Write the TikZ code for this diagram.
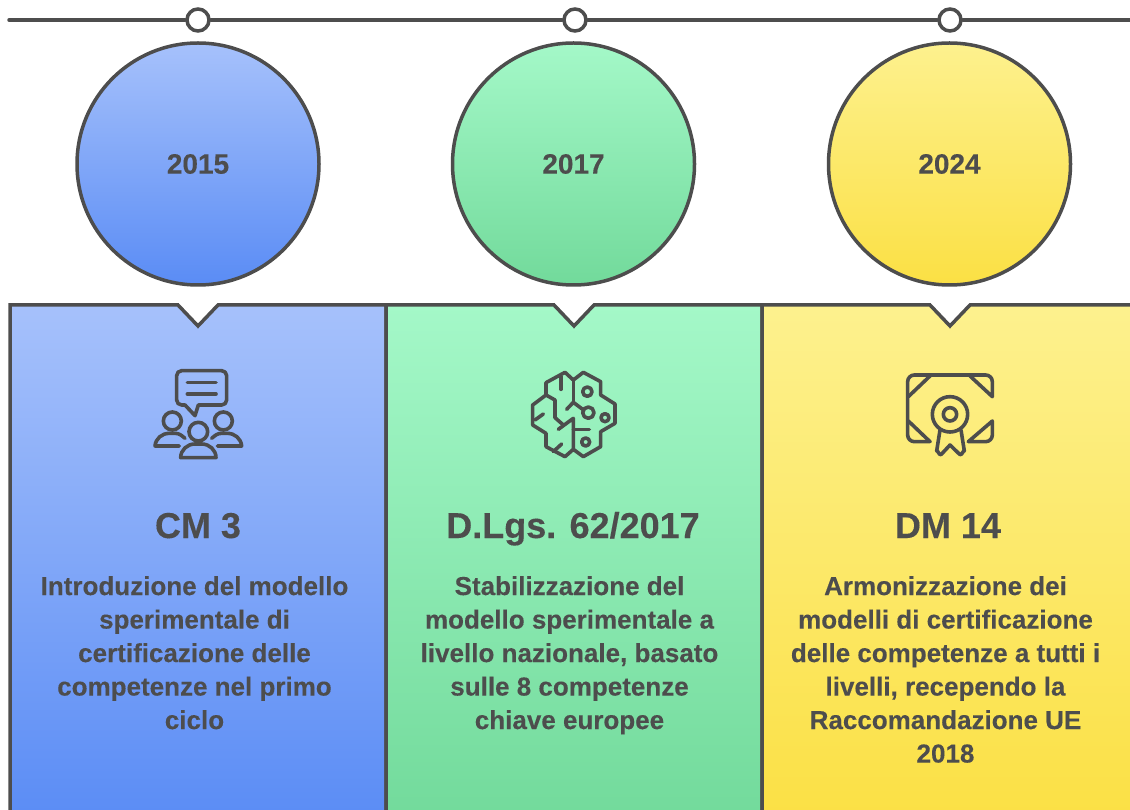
\documentclass[tikz,border=0pt]{standalone}
\usepackage{fontspec}
\setmainfont[BoldFeatures={FakeBold=0.2}]{Liberation Sans}
\definecolor{ink}{HTML}{4D4D4D}
\definecolor{blueT}{HTML}{A6C1FB}
\definecolor{blueB}{HTML}{5A8CF5}
\definecolor{greenT}{HTML}{A4F8C8}
\definecolor{greenB}{HTML}{72DA9B}
\definecolor{yellT}{HTML}{FDF18E}
\definecolor{yellB}{HTML}{FBE044}
\tikzset{
  yearball/.style={circle,draw=ink,line width=3.5pt,minimum size=242pt,inner sep=0pt,text=ink,font=\fontsize{28}{28}\selectfont\bfseries},
  tick/.style={circle,draw=ink,line width=3.5pt,fill=white,minimum size=22pt,inner sep=0pt},
  timeline/.style={draw=ink,line width=3.5pt,line cap=round},
  panel/.style={draw=ink,line width=3.5pt,line join=miter},
  headline/.style={text=ink,font=\fontsize{36}{36}\selectfont\bfseries,inner sep=0pt,anchor=base},
  bodytext/.style={text=ink,align=center,anchor=north,inner sep=0pt,font=\fontsize{26}{33.5}\selectfont\bfseries},
  ico/.style={draw=ink,line width=3.6pt,line cap=round,line join=round},
  zoomed/.style={x=0.33333pt,y=-0.33333pt}
}
\begin{document}
\begin{tikzpicture}[x=1pt,y=-1pt]
\useasboundingbox (0,0) rectangle (1130,810);
\fill[white] (0,0) rectangle (1130,810);
% panels
\path[panel,top color=blueT,bottom color=blueB] (10,305) -- (178,305) -- (198,326) -- (218,305) -- (386,305) -- (386,822) -- (10,822) -- cycle;
\path[panel,top color=greenT,bottom color=greenB] (386,305) -- (554,305) -- (574,326) -- (594,305) -- (762,305) -- (762,822) -- (386,822) -- cycle;
\path[panel,top color=yellT,bottom color=yellB] (762,305) -- (930,305) -- (950,326) -- (970,305) -- (1145,305) -- (1145,822) -- (762,822) -- cycle;
% timeline
\coordinate (tlL) at (9,20);
\coordinate (tlR) at (1135,20);
\node[tick] (t1) at (198,20) {};
\node[tick] (t2) at (575,20) {};
\node[tick] (t3) at (950,20) {};
\draw[timeline] (tlL) -- (t1);
\draw[timeline] (t1) -- (t2);
\draw[timeline] (t2) -- (t3);
\draw[timeline] (t3) -- (tlR);
% circles
\node[yearball,top color=blueT,bottom color=blueB] (c1) at (198,164) {2015};
\node[yearball,top color=greenT,bottom color=greenB] (c2) at (573.5,164) {2017};
\node[yearball,top color=yellT,bottom color=yellB] (c3) at (949.5,164) {2024};
% headings
\node[headline] (h1) at (198,538) {CM 3};
\node[headline] (h2) at (573,538) {D.Lgs. 62/2017};
\node[headline] (h3) at (948,538) {DM 14};
% body
\node[bodytext] (b1) at (194.5,576) {Introduzione del modello\\sperimentale di\\certificazione delle\\competenze nel primo\\ciclo};
\node[bodytext] (b2) at (569.5,576) {Stabilizzazione del\\modello sperimentale a\\livello nazionale, basato\\sulle 8 competenze\\chiave europee};
\node[bodytext] (b3) at (945.5,576) {Armonizzazione dei\\modelli di certificazione\\delle competenze a tutti i\\livelli, recependo la\\Raccomandazione UE\\2018};
% icon 1
\begin{scope}[zoomed,xshift=130pt,yshift=-350pt]
\draw[ico] (155,62) -- (275,62) to[out=0,in=90] (290,77) -- (290,150) to[out=-90,in=0] (275,165) -- (205,165) -- (195,197) -- (165,165) -- (155,165) to[out=180,in=-90] (140,150) -- (140,77) to[out=90,in=180] cycle;
\draw[ico] (172,98) -- (258,98) (172,132) -- (258,132);
\draw[ico] (127,213) circle (27);
\draw[ico] (205,245) circle (28);
\draw[ico] (280,213) circle (27);
\draw[ico] (148,288) -- (75,288) to[out=85,in=180] (118,250) -- (135,250) to[out=0,in=140] (165,265);
\draw[ico] (152,323) -- (258,323) to[out=90,in=0] (215,282) -- (195,282) to[out=180,in=90] cycle;
\draw[ico] (262,288) -- (335,288) to[out=95,in=0] (292,250) -- (275,250) to[out=180,in=40] (245,265);
\end{scope}
% icon 2
\begin{scope}[zoomed,xshift=510pt,yshift=-350pt]
\draw[ico] (190,90) -- (165,67) -- (108,98) -- (108,135) -- (68,165) -- (68,225) -- (108,250) -- (108,290) -- (165,320) -- (190,298) -- (220,320) -- (272,290) -- (272,245) -- (315,220) -- (315,162) -- (272,135) -- (272,95) -- (220,67) -- cycle;
\draw[ico] (153,80) -- (153,118);
\draw[ico] (108,135) -- (135,150) -- (135,203) -- (160,225);
\draw[ico] (145,238) -- (190,205) -- (190,298);
\draw[ico] (190,238) -- (238,238);
\draw[ico] (190,90) -- (190,157);
\draw[ico] (170,178) -- (190,157) -- (218,178);
\draw[ico] (235,188) circle (17);
\draw[ico] (232,125) circle (14);
\draw[ico] (285,203) circle (12);
\draw[ico] (227,276) circle (12);
\draw[ico] (75,210) -- (100,192);
\draw[ico] (130,305) -- (155,282);
\end{scope}
% icon 3
\begin{scope}[zoomed,xshift=885pt,yshift=-350pt]
\draw[ico] (135,275) -- (88,275) to[out=180,in=-90] (68,255) -- (68,95) to[out=90,in=180] (88,75) -- (302,75) to[out=0,in=90] (322,95) -- (322,140) -- (255,78);
\draw[ico] (135,275) -- (70,213);
\draw[ico] (135,78) -- (70,140);
\draw[ico] (250,275) -- (302,275) to[out=0,in=-90] (322,255) -- (322,213) -- cycle;
\draw[ico] (195,193) circle (53);
\draw[ico] (195,193) circle (20);
\draw[ico] (165,240) -- (155,303) to[out=80,in=200] (168,314) -- (195,285) -- (225,314) to[out=-20,in=100] (238,303) -- (228,240);
\end{scope}
\end{tikzpicture}
\end{document}
